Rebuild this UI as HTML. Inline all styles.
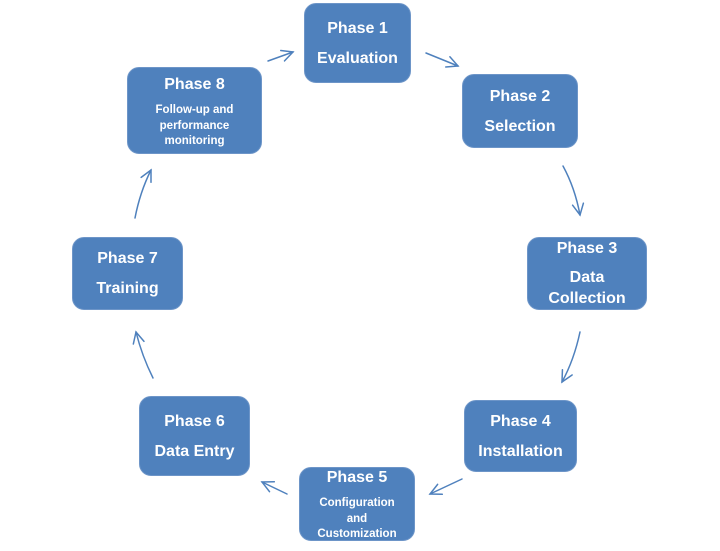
<!DOCTYPE html>
<html><head><style>
body{margin:0;width:720px;height:551px;background:#fff;position:relative;overflow:hidden;font-family:"Liberation Sans",sans-serif}
.b{position:absolute;background:#4f81bd;border:1px solid #6d95c8;border-radius:12px;color:#fff;font-weight:bold;text-align:center;box-sizing:border-box}
.t{position:absolute;left:0;right:0;font-size:16px;line-height:18px}
.s{position:absolute;left:0;right:0;font-size:11.5px;line-height:15.5px}
svg{position:absolute;left:0;top:0}
</style></head><body>
<div class="b" style="left:304px;top:3px;width:107px;height:80px"><div class="t" style="top:16px">Phase 1</div><div class="t" style="top:46px">Evaluation</div></div>
<div class="b" style="left:462px;top:74px;width:116px;height:74px"><div class="t" style="top:13px">Phase 2</div><div class="t" style="top:43px">Selection</div></div>
<div class="b" style="left:527px;top:237px;width:120px;height:73px"><div class="t" style="top:2px">Phase 3</div><div class="t" style="top:31px">Data</div><div class="t" style="top:52px">Collection</div></div>
<div class="b" style="left:464px;top:400px;width:113px;height:72px"><div class="t" style="top:12px">Phase 4</div><div class="t" style="top:42px">Installation</div></div>
<div class="b" style="left:299px;top:467px;width:116px;height:74px"><div class="t" style="top:1px">Phase 5</div><div class="s" style="top:28px">Configuration<br>and<br>Customization</div></div>
<div class="b" style="left:139px;top:396px;width:111px;height:80px"><div class="t" style="top:16px">Phase 6</div><div class="t" style="top:46px">Data Entry</div></div>
<div class="b" style="left:72px;top:237px;width:111px;height:73px"><div class="t" style="top:12px">Phase 7</div><div class="t" style="top:42px">Training</div></div>
<div class="b" style="left:127px;top:67px;width:135px;height:87px"><div class="t" style="top:8px">Phase 8</div><div class="s" style="top:35px">Follow-up and<br>performance<br>monitoring</div></div>
<svg width="720" height="551" fill="none" stroke="#4f81bd" stroke-width="1.5" stroke-linecap="round">
<defs><marker id="m" markerWidth="14" markerHeight="14" refX="12" refY="7" orient="auto" markerUnits="userSpaceOnUse"><path d="M1,1.5 L12,7 L1,12.5" fill="none" stroke="#4f81bd" stroke-width="1.5"/></marker></defs>
<g marker-end="url(#m)">
<path d="M426,53 L458,66"/>
<path d="M563,166 Q575,188 580,215"/>
<path d="M580,332 Q574,360 562,382"/>
<path d="M462,479 L430,494"/>
<path d="M287,494 L262,482"/>
<path d="M153,378 Q142,356 136,332"/>
<path d="M135,218 Q140,192 151,170"/>
<path d="M268,61 L293,52"/>
</g></svg>
</body></html>
